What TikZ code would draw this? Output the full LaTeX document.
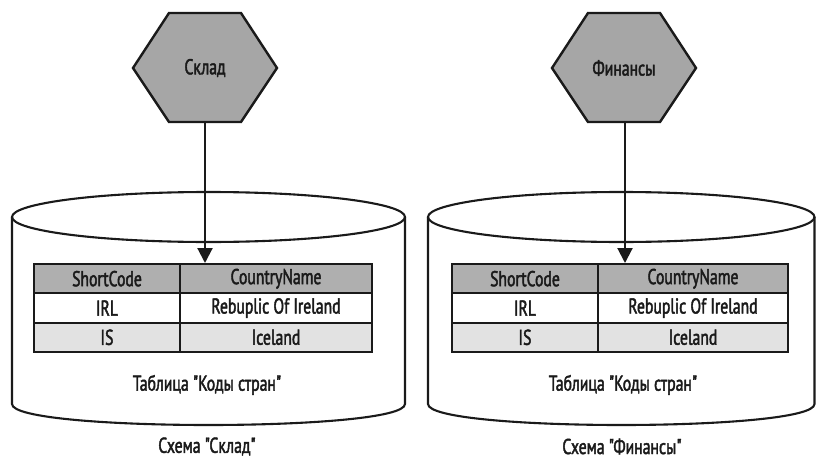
\documentclass[tikz,border=0pt]{standalone}
\usepackage{fontspec}
\setmainfont{PT Sans}[FakeStretch=0.73, FakeBold=2, Ligatures=TeXOff]
\usetikzlibrary{arrows.meta}
\definecolor{ink}{HTML}{1A1A1A}
\definecolor{hexgray}{HTML}{A6A6A6}
\definecolor{headgray}{HTML}{AFAFAF}
\definecolor{rowgray}{HTML}{E2E2E2}
\begin{document}
\begin{tikzpicture}[x=1pt,y=1pt,
  outline/.style={draw=ink, line width=2.1pt},
  hexshape/.style={fill=hexgray, draw=ink, line width=2.4pt, line join=miter},
  txt/.style={font=\fontsize{21.5}{21.5}\selectfont, text=ink, inner sep=0pt},
  cell/.style={draw=ink, line width=2pt, minimum height=29.33pt, inner sep=0pt,
               font=\fontsize{21.5}{21.5}\selectfont, text=ink},
  head/.style={cell, fill=headgray},
  plain/.style={cell, fill=white},
  shade/.style={cell, fill=rowgray},
  link/.style={draw=ink, line width=2.1pt, -{Triangle[length=15pt, width=15pt]}}
]
\useasboundingbox (0,0) rectangle (816,459);

% ---- schema cylinders ----
\draw[outline] (12,242) -- (12,55) .. controls (12,27) and (405,27) .. (405,55) -- (405,242);
\draw[outline] (208.5,242) ellipse [x radius=196.5pt, y radius=25pt];
\draw[outline] (428,242) -- (428,55) .. controls (428,27) and (814.5,27) .. (814.5,55) -- (814.5,242);
\draw[outline] (621.25,242) ellipse [x radius=193.25pt, y radius=25pt];

% ---- services ----
\draw[hexshape] (133,391) -- (169,446) -- (241,446) -- (277,391) -- (241,337) -- (169,337) -- cycle;
\node[txt] (svcA) at (205,391) {Склад};
\coordinate (svcAb) at (205,337);

\draw[hexshape] (552,391) -- (588,446) -- (660,446) -- (696,391) -- (660,337) -- (588,337) -- cycle;
\node[txt] (svcB) at (624,391) {Финансы};
\coordinate (svcBb) at (625,337);

% ---- tables, left ----
\node[head,  minimum width=146pt] (a11) at (107,180.33) {ShortCode};
\node[head,  minimum width=192pt] (a12) at (276,180.33) {CountryName};
\node[plain, minimum width=146pt] (a21) at (107,151)    {IRL};
\node[plain, minimum width=192pt] (a22) at (276,151)    {Rebuplic Of Ireland};
\node[shade, minimum width=146pt] (a31) at (107,121.67) {IS};
\node[shade, minimum width=192pt] (a32) at (276,121.67) {Iceland};

% ---- tables, right ----
\node[head,  minimum width=146pt] (b11) at (525,180.33) {ShortCode};
\node[head,  minimum width=190pt] (b12) at (693,180.33) {CountryName};
\node[plain, minimum width=146pt] (b21) at (525,151)    {IRL};
\node[plain, minimum width=190pt] (b22) at (693,151)    {Rebuplic Of Ireland};
\node[shade, minimum width=146pt] (b31) at (525,121.67) {IS};
\node[shade, minimum width=190pt] (b32) at (693,121.67) {Iceland};

% ---- captions ----
\node[txt] (capA) at (207,74) {Таблица "Коды стран"};
\node[txt] (capB) at (623,74) {Таблица "Коды стран"};
\node[txt] (schA) at (207,12.5) {Схема "Склад"};
\node[txt] (schB) at (622,12.5) {Схема "Финансы"};

% ---- connectors ----
\draw[link] (svcAb) -- (svcAb |- a12.north);
\draw[link] (svcBb) -- (svcBb |- b12.north);
\end{tikzpicture}
\end{document}
